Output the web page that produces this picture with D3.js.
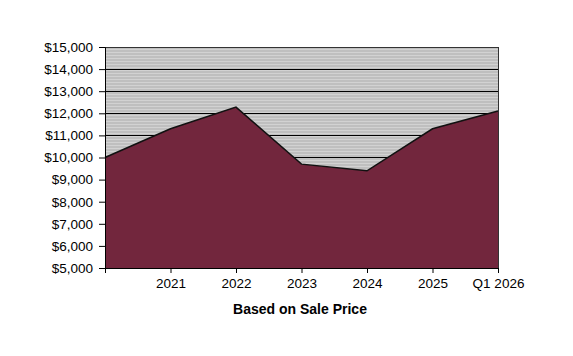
<!DOCTYPE html>
<html><head><meta charset="utf-8">
<script src="https://cdn.jsdelivr.net/npm/d3@7"></script>
<style>body{margin:0;background:#fff}svg{display:block}text{font-family:Arial,"Liberation Sans",sans-serif}</style>
</head><body><svg id="c" width="573" height="356"></svg>
<script>
const categories = ["", "2021", "2022", "2023", "2024", "2025", "Q1 2026"];
const values = [10000, 11300, 12280, 9700, 9400, 11300, 12100];
const yTicks = [5000, 6000, 7000, 8000, 9000, 10000, 11000, 12000, 13000, 14000, 15000];
const xTitle = "Based on Sale Price";

const svg = d3.select("#c");
const L = 105, R = 498, T = 47, B = 268;
const x = d3.scalePoint().domain(categories.map((d,i)=>i)).range([L, R]);
const y = d3.scaleLinear().domain([5000, 15000]).range([B, T]);

const defs = svg.append("defs");
const pat = defs.append("pattern").attr("id","stripe").attr("patternUnits","userSpaceOnUse")
  .attr("width",4).attr("height",3);
pat.append("rect").attr("width",4).attr("height",3).attr("fill","#bfbfbf");
pat.append("rect").attr("y",1).attr("width",4).attr("height",1).attr("fill","#d2d2d2");

svg.append("rect").attr("x",L).attr("y",T).attr("width",R-L).attr("height",B-T)
  .attr("fill","url(#stripe)");

svg.append("g").selectAll("line").data(yTicks).join("line")
  .attr("x1",L).attr("x2",R).attr("y1",d=>y(d)).attr("y2",d=>y(d))
  .attr("stroke","#000").attr("stroke-width",1).attr("shape-rendering","crispEdges");

const area = d3.area().x((d,i)=>x(i)).y0(B).y1(d=>y(d));
svg.append("path").datum(values).attr("d",area).attr("fill","#72263d");
const line = d3.line().x((d,i)=>x(i)).y(d=>y(d));
svg.append("path").datum(values).attr("d",line).attr("fill","none").attr("stroke","#111").attr("stroke-width",1.5);

svg.append("rect").attr("x",L).attr("y",T).attr("width",R-L).attr("height",B-T)
  .attr("fill","none").attr("stroke","#333").attr("stroke-width",1).attr("shape-rendering","crispEdges");

const yAxis = d3.axisLeft(y).tickValues(yTicks).tickSize(6).tickPadding(6)
  .tickFormat(d=>"$"+d3.format(",")(d));
const gy = svg.append("g").attr("transform",`translate(${L},0)`).call(yAxis);
gy.select(".domain").attr("stroke","#000");
gy.selectAll("text").attr("font-size",13.5).attr("fill","#000");

const xAxis = d3.axisBottom(x).tickSize(5).tickPadding(5).tickFormat(i=>categories[i]);
const gx = svg.append("g").attr("transform",`translate(0,${B})`).call(xAxis);
gx.select(".domain").attr("stroke","#000");
gx.selectAll("text").attr("font-size",13.5).attr("fill","#000");

svg.append("text").attr("x",300).attr("y",314).attr("text-anchor","middle")
  .attr("font-size",14).attr("font-weight","bold").text(xTitle);
</script></body></html>
